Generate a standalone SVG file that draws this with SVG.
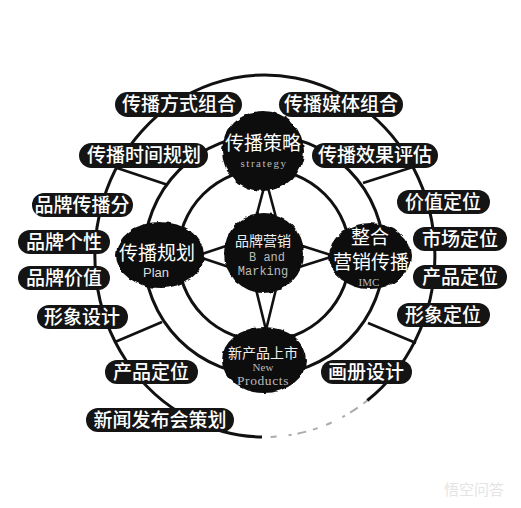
<svg xmlns="http://www.w3.org/2000/svg" width="521" height="508" viewBox="0 0 521 508">
  <defs>
    <filter id="ink" x="-20%" y="-20%" width="140%" height="140%">
      <feTurbulence type="fractalNoise" baseFrequency="0.12" numOctaves="2" seed="4" result="n"/>
      <feDisplacementMap in="SourceGraphic" in2="n" scale="4" xChannelSelector="R" yChannelSelector="G"/>
    </filter>
    <style>
      .ring { fill: none; stroke: #111; stroke-width: 3; }
      .conn { fill: none; stroke: #111; stroke-width: 2.6; stroke-linejoin: miter; }
      .blob { fill: #0b0b0b; filter: url(#ink); }
      .pill { fill: #141414; }
      .lbl { font-family: "Noto Sans CJK SC", "Noto Sans", sans-serif; font-size: 19px; font-weight: 500; fill: #fff; text-anchor: middle; }
      .big { font-family: "Noto Sans CJK SC", "Noto Sans", sans-serif; font-size: 19px; fill: #fff; text-anchor: middle; }
      .mid { font-family: "Noto Sans CJK SC", "Noto Sans", sans-serif; font-size: 14px; fill: #eee; text-anchor: middle; }
      .en { font-family: "Liberation Serif", serif; fill: #bbb; text-anchor: middle; }
      .mono { font-family: "Liberation Mono", monospace; font-size: 12px; fill: #bbb; text-anchor: middle; }
    </style>
  </defs>
  <rect width="521" height="508" fill="#fff"/>

  <g id="connectors">
    <path class="ring" d="M 262 437 A 170 181 0 1 1 367.3 400.5"/>
    <path d="M 367.3 400.5 A 170 181 0 0 1 262 437" fill="none" stroke="#666" stroke-width="2" stroke-opacity="0.55" stroke-dasharray="5 7 9 6 3 12 6 9"/>
    <circle class="ring" cx="264" cy="255" r="120"/>
    <circle class="ring" cx="264" cy="255" r="86"/>
    <line class="conn" x1="117" y1="168" x2="168" y2="185"/>
    <line class="conn" x1="363" y1="183" x2="413" y2="167"/>
    <line class="conn" x1="115" y1="342" x2="162" y2="322"/>
    <line class="conn" x1="368" y1="323" x2="416" y2="343"/>
    <polyline class="conn" points="254,225 266,180 278,225"/>
    <polyline class="conn" points="255,285 266,330 277,285"/>
    <polyline class="conn" points="235,243 196,256 235,269"/>
    <polyline class="conn" points="293,243 334,256 293,269"/>
  </g>

  <g id="center">
    <circle class="blob" cx="264" cy="253" r="40"/>
    <text class="mid" x="263" y="246">品牌营销</text>
    <text class="mono" x="267" y="261">B and</text>
    <text class="mono" x="263" y="275">Marking</text>
  </g>

  <g id="strategy">
    <ellipse class="blob" cx="263" cy="151" rx="41" ry="40"/>
    <text class="big" x="263" y="150">传播策略</text>
    <text class="en" x="264" y="167" font-size="11" letter-spacing="1.5">strategy</text>
  </g>

  <g id="plan">
    <ellipse class="blob" cx="160" cy="255" rx="44" ry="33"/>
    <text class="big" x="157" y="260">传播规划</text>
    <text x="156" y="277" font-family="Liberation Sans, sans-serif" font-size="13" fill="#ddd" text-anchor="middle">Plan</text>
  </g>

  <g id="imc">
    <ellipse class="blob" cx="370" cy="256" rx="41" ry="33"/>
    <text class="big" x="370" y="244">整合</text>
    <text class="big" x="371" y="269">营销传播</text>
    <text class="en" x="369" y="286" font-size="11">IMC</text>
  </g>

  <g id="newproducts">
    <ellipse class="blob" cx="264" cy="360" rx="42" ry="33"/>
    <text class="mid" x="263" y="358">新产品上市</text>
    <text class="en" x="263" y="371" font-size="11">New</text>
    <text class="en" x="263" y="385" font-size="13.5" letter-spacing="0.6">Products</text>
  </g>

  <g id="l-fangshi"><rect class="pill" x="115" y="92" width="127" height="25" rx="12.5"/><text class="lbl" x="179" y="111">传播方式组合</text></g>
  <g id="l-meiti"><rect class="pill" x="279" y="92" width="124" height="25" rx="12.5"/><text class="lbl" x="341" y="111">传播媒体组合</text></g>
  <g id="l-shijian"><rect class="pill" x="79" y="143" width="129" height="25" rx="12.5"/><text class="lbl" x="144" y="162">传播时间规划</text></g>
  <g id="l-xiaoguo"><rect class="pill" x="312" y="143" width="126" height="25" rx="12.5"/><text class="lbl" x="375" y="162">传播效果评估</text></g>

  <g id="l-chuanbofen"><rect class="pill" x="32" y="193" width="101" height="24" rx="12"/><text class="lbl" x="82" y="212">品牌传播分</text></g>
  <g id="l-gexing"><rect class="pill" x="18" y="230" width="92" height="24" rx="12"/><text class="lbl" x="64" y="249">品牌个性</text></g>
  <g id="l-jiazhi"><rect class="pill" x="18" y="266" width="92" height="24" rx="12"/><text class="lbl" x="64" y="285">品牌价值</text></g>
  <g id="l-xingxiangsheji"><rect class="pill" x="37" y="305" width="91" height="24" rx="12"/><text class="lbl" x="82" y="324">形象设计</text></g>

  <g id="r-jiazhi"><rect class="pill" x="397" y="190" width="93" height="24" rx="12"/><text class="lbl" x="443" y="209">价值定位</text></g>
  <g id="r-shichang"><rect class="pill" x="413" y="227" width="94" height="24" rx="12"/><text class="lbl" x="460" y="246">市场定位</text></g>
  <g id="r-chanpin"><rect class="pill" x="413" y="265" width="94" height="24" rx="12"/><text class="lbl" x="460" y="284">产品定位</text></g>
  <g id="r-xingxiang"><rect class="pill" x="397" y="303" width="93" height="24" rx="12"/><text class="lbl" x="443" y="322">形象定位</text></g>

  <g id="b-chanpin"><rect class="pill" x="105" y="360" width="93" height="24" rx="12"/><text class="lbl" x="151" y="379">产品定位</text></g>
  <g id="b-huace"><rect class="pill" x="321" y="360" width="91" height="24" rx="12"/><text class="lbl" x="366" y="379">画册设计</text></g>
  <g id="b-xinwen"><rect class="pill" x="86" y="408" width="148" height="24" rx="12"/><text class="lbl" x="160" y="427">新闻发布会策划</text></g>

  <text x="474" y="495" font-family="Noto Sans CJK SC, sans-serif" font-size="15" fill="#e4e4e4" text-anchor="middle">悟空问答</text>
</svg>
